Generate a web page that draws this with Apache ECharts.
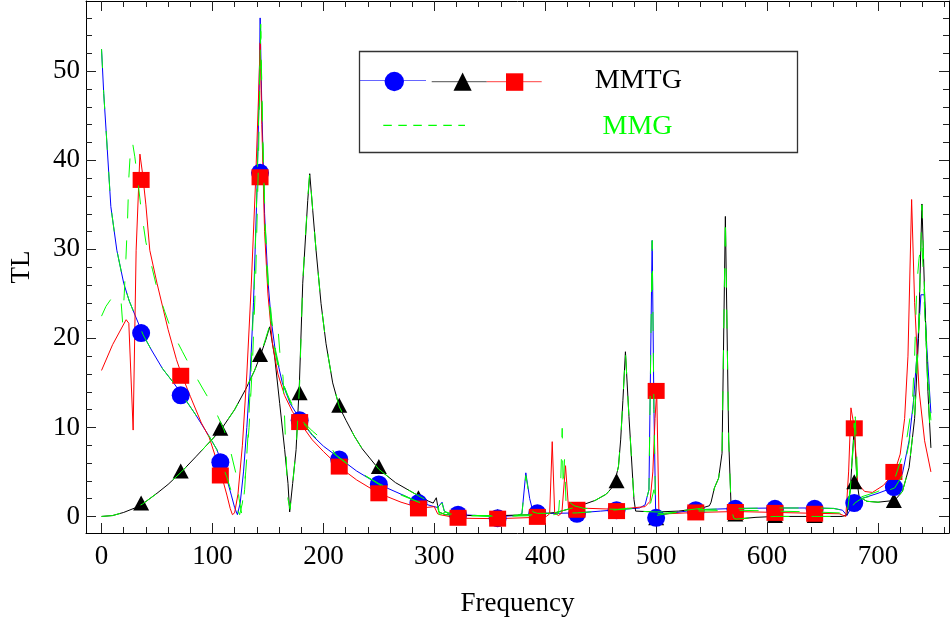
<!DOCTYPE html>
<html><head><meta charset="utf-8">
<script src="https://cdn.jsdelivr.net/npm/echarts@6/dist/echarts.min.js"></script>
<style>html,body{margin:0;padding:0;background:#fff}#c{width:950px;height:626px}</style>
</head><body><div id="c"></div>
<script>
// ---------- data ----------
const xMajor = [0, 100, 200, 300, 400, 500, 600, 700];
const xMinor = [20, 40, 60, 80, 120, 140, 160, 180, 220, 240, 260, 280, 320, 340, 360, 380, 420, 440, 460, 480, 520, 540, 560, 580, 620, 640, 660, 680, 720, 740, 760];
const yMajor = [0, 10, 20, 30, 40, 50];
const yMinor = [2, 4, 6, 8, 12, 14, 16, 18, 22, 24, 26, 28, 32, 34, 36, 38, 42, 44, 46, 48, 52, 54, 56];

const markerX = [35.7, 71.4, 107.1, 142.9, 178.6, 214.3, 250, 285.7, 321.4, 357.1, 392.9, 428.6, 464.3, 500, 535.7, 571.4, 607.1, 642.9, 678.6, 714.3];
const circleY = [20.6, 13.6, 6.1, 38.6, 10.8, 6.4, 3.6, 1.5, 0.2, -0.2, 0.35, 0.3, 0.7, -0.15, 0.7, 0.85, 0.85, 0.85, 1.5, 3.3];
const triangleY = [1.5, 5.1, 9.9, 18.2, 13.9, 12.5, 5.6, 2.1, 0.1, 0.0, 0.2, 0.7, 4.0, -0.15, 0.5, 0.28, 0.1, 0.1, 3.9, 1.8];
const squareY = [37.8, 15.8, 4.6, 38.1, 10.6, 5.6, 2.6, 0.9, -0.15, -0.25, -0.05, 0.75, 0.6, 14.1, 0.45, 0.5, 0.4, 0.3, 9.9, 5.0];

const blue = [[0,52.5],[2,47.5],[4.5,42.6],[8.4,34.8],[13.8,29.9],[20,26.2],[25,24.2],[30.9,22.4],[37.5,20.4],[45,18.7],[55,16.6],[65,15],[73,13.6],[85,11.4],[97,9.0],[104,7.5],[108,6.1],[113,4.2],[117,2.4],[120,1],[122.5,0.2],[125,1.5],[128,5],[131,10],[134,16],[137,24],[140,36],[142,47],[143,56],[144.5,46],[147,34],[150,26.5],[153,22],[157,18.3],[163,15],[170,12.7],[179.5,10.8],[190,9.1],[200,7.9],[215,6.5],[230,5.1],[250,3.6],[270,2.5],[286,1.6],[297,1.2],[303,1.0],[307,1.6],[309,0.6],[313,0.3],[322,0.2],[340,0.1],[357,0],[375,0.1],[379,0.3],[382.5,4.9],[386,2.0],[389,0.5],[393,0.35],[410,0.35],[429,0.4],[450,0.6],[465,0.75],[485,0.95],[490,1.3],[493.5,3],[496.4,31],[498,12],[499.6,0.1],[501,-0.1],[510,0.3],[536,0.75],[572,0.9],[608,0.95],[643,0.95],[660,0.9],[668,0.7],[672,0.1],[675,0.8],[679,1.5],[685,2.0],[700,2.6],[715,3.3],[722,4.8],[728,8.5],[732,13],[735,18],[738.7,24.9],[741.7,24.9],[744,19],[747.7,11.6]];

const black = [[0,0],[10,0.1],[20,0.45],[30,0.95],[37,1.4],[50,2.6],[60,3.6],[72,5.0],[85,6.7],[100,8.7],[108,9.8],[120,12],[130,14.3],[138,16.4],[143,18],[148,19.8],[151.6,21.3],[156.1,17.9],[160.6,12.7],[165.1,7.5],[168.1,3.7],[169.6,0.5],[172.3,3.7],[175.4,7.5],[178.4,15],[181.4,26.2],[185.9,35.5],[187.7,38.5],[190.4,34.4],[193.4,29.9],[197.9,23.9],[202.4,19.4],[208.4,15.0],[214.4,12.3],[220.4,10.8],[228,9.0],[235,7.6],[250,5.3],[265,3.8],[286,2.3],[295,1.7],[299,1.5],[301.8,2.1],[304,0.5],[310,0.2],[330,0.1],[360,0.1],[390,0.2],[410,0.45],[429,1.1],[445,1.8],[455,2.5],[462,3.5],[466,5.6],[468,8.6],[470,13],[472.3,18.5],[475.5,11.2],[480,1.9],[481.5,0.6],[500,0.5],[520,0.6],[540,0.9],[548,1.2],[549.5,1.6],[552.5,3.2],[556.3,4.3],[559.4,7.1],[562.4,33.7],[565.4,8.6],[567.6,0.9],[570,-0.2],[572,-0.3],[590,-0.1],[608,0],[643,0],[668,0],[672,0.2],[675,3],[678.6,10.1],[681,4],[683,2.2],[690,1.7],[700,1.6],[715,1.8],[722,2.8],[728,5.5],[733,11],[736.5,20],[739.6,35.1],[742,25],[745,14],[747.7,7.7]];

const red = [[0,16.4],[10,19.3],[22.2,22.1],[24.6,21.7],[28.5,9.7],[31.2,29.9],[34.6,40.7],[37,38.5],[40,35],[43.5,29.9],[50,26.2],[60,21],[67.6,17.6],[72,16],[80,13.5],[90,10.5],[97,8.9],[103,6.6],[108,4.7],[113,2.4],[116,0.9],[118,0.2],[120,0.4],[123,2.5],[127,8],[131,16],[135,26],[139,38],[141.5,47],[143,53.2],[144.5,44],[147,32],[150,25],[154,19.5],[159,16],[165,13.6],[172,11.8],[179,10.5],[190,8.6],[200,7.3],[215,5.5],[230,4.1],[250,2.6],[270,1.6],[286,1.0],[292,1.0],[300,1.1],[303,0.3],[305,0.2],[322,-0.2],[357,-0.25],[393,-0.1],[401,0],[404,0.3],[406.3,8.4],[408.5,0.4],[412,0.1],[415,0.4],[418.3,5.7],[421,0.9],[429,0.95],[465,0.8],[490,1.1],[494.5,1.7],[497,5],[499,11],[500.5,14.1],[502.5,0.2],[510,0.3],[536,0.45],[572,0.55],[608,0.45],[643,0.35],[665,0.3],[671,0],[673.5,5],[675.6,12.2],[678.6,10],[681.6,3.7],[688,2.8],[695,2.7],[705,3.5],[715,5.0],[720,7],[724,11],[727,18],[730.3,35.6],[733,24],[737,14.2],[742,8.5],[747.7,5.0]];

const greenBlue = [[0,52.5],[2,47.5],[4.5,42.6],[8.4,34.8],[13.8,29.9],[20,26.2],[25,24.2],[30.9,22.4],[37.5,20.4],[45,18.7],[55,16.6],[65,15],[73,13.6],[85,11.4],[97,9.0],[104,7.5],[108,6.1],[113,4.4],[117,2.8],[121,1.2],[124.5,0.2],[127,1.5],[130,5],[133,10],[136,17],[139,27],[141.5,40],[143.5,55.3],[145,44],[147.5,33],[150.5,26],[153.5,22],[157,18.6],[163,15.2],[170,12.9],[179.5,10.9],[190,9.2],[200,8.0],[215,6.5],[230,5.1],[250,3.7],[270,2.5],[286,1.6],[297,1.2],[303,1.0],[307,1.5],[309,0.6],[313,0.3],[322,0.2],[340,0.1],[357,0],[375,0.1],[379,0.3],[382.5,4.6],[386,2.0],[389,0.5],[393,0.35],[410,0.35],[429,0.4],[450,0.6],[465,0.75],[485,0.95],[490,1.3],[493.5,3],[496.4,31],[498,12],[499.6,0.1],[501,-0.1],[510,0.3],[536,0.75],[572,0.9],[608,0.95],[643,0.95],[660,0.9],[668,0.7],[672,0.1],[675,0.8],[679,1.5],[685,2.0],[700,2.5],[715,3.2],[722,4.6],[728,8.2],[732,12.6],[735,18],[738.5,24.5],[741.5,24.5],[744,18],[747.7,11.2]];

const greenBlack = [[0,0],[10,0.1],[20,0.45],[30,0.95],[37,1.4],[50,2.6],[60,3.6],[72,5.0],[85,6.7],[100,8.7],[108,9.8],[120,12],[130,14.3],[138,16.4],[143,18],[148,20],[152,21.6],[155,21.9],[159,21.3],[161,18],[163.6,15.7],[166,8],[168,2],[170,0.8],[172.3,3.7],[175.4,7.5],[178.6,15],[181.4,26.4],[185.9,35.7],[187.7,38.7],[190.4,34.4],[193.4,29.9],[197.9,23.9],[202.4,19.4],[208.4,15.0],[214.4,12.3],[220.4,10.8],[228,9.0],[235,7.6],[250,5.3],[265,3.8],[286,2.3],[295,1.7],[299,1.5],[301.8,2.0],[304,0.5],[310,0.2],[330,0.1],[360,0.1],[390,0.2],[410,0.45],[429,1.1],[445,1.8],[455,2.5],[462,3.5],[466,5.6],[468,8.6],[470,13],[472.3,18.5],[475.5,11.2],[480,1.9],[481.5,0.6],[500,0.5],[520,0.6],[540,0.9],[548,1.2],[549.5,1.6],[552.5,3.2],[556.3,4.3],[559.4,7.1],[562.4,33.7],[565.4,8.6],[567.6,0.9],[570,-0.2],[572,-0.3],[590,-0.1],[608,0],[643,0],[668,0],[672,0.2],[675,3],[678.6,10.5],[681,4],[683,2.2],[690,1.7],[700,1.6],[715,1.8],[722,2.8],[728,5.5],[733,11],[736.5,20],[739.6,35],[742,25],[745,14],[747.7,8.0]];

const greenRed = [[0,22.5],[4,23.6],[9,24.5],[14,25.2],[17.7,24],[19,21.8],[20.5,25],[22,29],[23.5,33.5],[24.6,38],[26,41],[27.7,42.2],[30,40.4],[33,37.4],[36,34.2],[40,30.8],[46,27.7],[50,25.6],[57,23],[63,20.9],[73,18.5],[81,16.6],[92,14.2],[101,12.3],[110.5,9.7],[115.6,7.7],[121,4.9],[124,2],[126.5,0.2],[129,3],[132,9],[135,17],[138,27],[141,41],[143.5,54.5],[145.5,42],[148,30],[151,24],[155,19.5],[160,16.3],[167,13.8],[175,11.8],[182,10.6],[190,9.6],[205.4,8.0],[211.4,6.9],[222,5.9],[234,4.9],[250,3.6],[270,2.4],[286,1.6],[292.5,1.5],[303.5,1.3],[304.5,0.2],[310.5,0.5],[322,0.1],[357,0],[393,0.1],[408,0.2],[412,0.3],[414,4],[415.3,9.9],[416.2,3],[417.4,6.4],[419,0.6],[421,1.7],[426,1.2],[435,0.9],[465,0.8],[490,1.1],[495,1.5],[498,3],[500,0.3],[510,0.4],[536,0.6],[572,0.7],[608,0.6],[643,0.5],[665,0.4],[671,0.1],[675,3],[679.5,11.2],[682,3],[685,2.2],[700,2.8],[715,4.2],[725,8],[731,12.8],[733,18],[735,26],[737,29],[739.5,31],[742,24],[745,15],[747.7,10.8]];

const legendMMTG = 'MMTG';
const legendMMG = 'MMG';

// ---------- chart ----------
const FONT = 'Liberation Serif';
const X_MIN = -14, X_MAX = 764, Y_MIN = -1.86, Y_MAX = 57.9;
const chart = echarts.init(document.getElementById('c'), null, {renderer: 'canvas'});

function xAx(pos, major, withLabel) {
  return {
    type: 'value', min: X_MIN, max: X_MAX, position: pos,
    splitLine: {show: false},
    axisLine: {show: major, onZero: false, lineStyle: {color: '#000', width: 1}},
    axisTick: {show: true, inside: true, length: major ? 10 : 6, customValues: major ? xMajor : xMinor,
               lineStyle: {color: '#222', width: 1}},
    axisLabel: withLabel ? {show: true, customValues: xMajor, margin: 10, fontFamily: FONT, fontSize: 27, color: '#000'} : {show: false},
    name: withLabel ? 'Frequency' : '', nameLocation: 'middle', nameGap: 57,
    nameTextStyle: {fontFamily: FONT, fontSize: 27, color: '#000'}
  };
}
function yAx(pos, major, withLabel) {
  return {
    type: 'value', min: Y_MIN, max: Y_MAX, position: pos,
    splitLine: {show: false},
    axisLine: {show: major, onZero: false, lineStyle: {color: '#000', width: 1}},
    axisTick: {show: true, inside: true, length: major ? 10 : 6, customValues: major ? yMajor : yMinor,
               lineStyle: {color: '#222', width: 1}},
    axisLabel: withLabel ? {show: true, customValues: yMajor, margin: 6, fontFamily: FONT, fontSize: 27, color: '#000'} : {show: false},
    name: withLabel ? 'TL' : '', nameLocation: 'middle', nameGap: 51,
    nameTextStyle: {fontFamily: FONT, fontSize: 27, color: '#000'}
  };
}

const GREEN = '#00ff00';
const dash = [19, 22];
function lineS(data, color, z, dashed) {
  return {type: 'line', data: data, symbol: 'none', showSymbol: false, silent: true, z: z,
          lineStyle: {color: color, width: 1, type: dashed ? dash : 'solid'}, animation: false};
}
function mk(ys) { return markerX.map((x, i) => [x, ys[i]]); }

const option = {
  animation: false,
  backgroundColor: '#fff',
  grid: {left: 86, right: 1, top: 1, bottom: 93, containLabel: false},
  xAxis: [xAx('bottom', true, true), xAx('bottom', false, false), xAx('top', true, false), xAx('top', false, false)],
  yAxis: [yAx('left', true, true), yAx('left', false, false), yAx('right', true, false), yAx('right', false, false)],
  series: [
    lineS(blue, '#0000ff', 2, false),
    lineS(black, '#000000', 2, false),
    lineS(red, '#ff0000', 2, false),
    {type: 'scatter', data: mk(triangleY), symbol: 'triangle', symbolSize: [16, 15], z: 3, silent: true,
     itemStyle: {color: '#000', opacity: 1}},
    {type: 'scatter', data: mk(circleY), symbol: 'circle', symbolSize: 18, z: 4, silent: true,
     itemStyle: {color: '#0000ff', opacity: 1}},
    {type: 'scatter', data: mk(squareY), symbol: 'rect', symbolSize: [17, 16], z: 5, silent: true,
     itemStyle: {color: '#ff0000', opacity: 1}},
    lineS(greenBlue, GREEN, 6, true),
    lineS(greenBlack, GREEN, 6, true),
    lineS(greenRed, GREEN, 6, true)
  ],
  graphic: [
    {type: 'rect', z: 100, shape: {x: 359.5, y: 51.5, width: 438, height: 101},
     style: {fill: '#fff', stroke: '#333', lineWidth: 1.3}},
    {type: 'line', z: 101, shape: {x1: 360, y1: 80.5, x2: 426, y2: 80.5}, style: {stroke: '#0000ff', lineWidth: 1.2, opacity: 0.6}},
    {type: 'circle', z: 102, shape: {cx: 394.3, cy: 81.5, r: 9.7}, style: {fill: '#0000ff'}},
    {type: 'line', z: 101, shape: {x1: 431.7, y1: 81.7, x2: 486.7, y2: 81.7}, style: {stroke: '#000', lineWidth: 1.2, opacity: 0.55}},
    {type: 'polygon', z: 102, shape: {points: [[453.5, 90.7], [471.7, 90.7], [462.6, 72.5]]}, style: {fill: '#000'}},
    {type: 'line', z: 101, shape: {x1: 486.7, y1: 81.7, x2: 541.7, y2: 81.7}, style: {stroke: '#ff0000', lineWidth: 1.2, opacity: 0.6}},
    {type: 'rect', z: 102, shape: {x: 506, y: 73.3, width: 17.3, height: 17.5}, style: {fill: '#ff0000'}},
    {type: 'text', z: 102, style: {text: legendMMTG, x: 638.3, y: 81, align: 'center', verticalAlign: 'middle',
      font: '28px "Liberation Serif"', fill: '#000'}},
    {type: 'line', z: 101, shape: {x1: 383.3, y1: 125.3, x2: 465, y2: 125.3}, style: {stroke: GREEN, lineWidth: 1.2, lineDash: [8.5, 6.5]}},
    {type: 'text', z: 102, style: {text: legendMMG, x: 637.5, y: 126.5, align: 'center', verticalAlign: 'middle',
      font: '28px "Liberation Serif"', fill: GREEN}}
  ]
};
chart.setOption(option);
</script>
</body></html>
